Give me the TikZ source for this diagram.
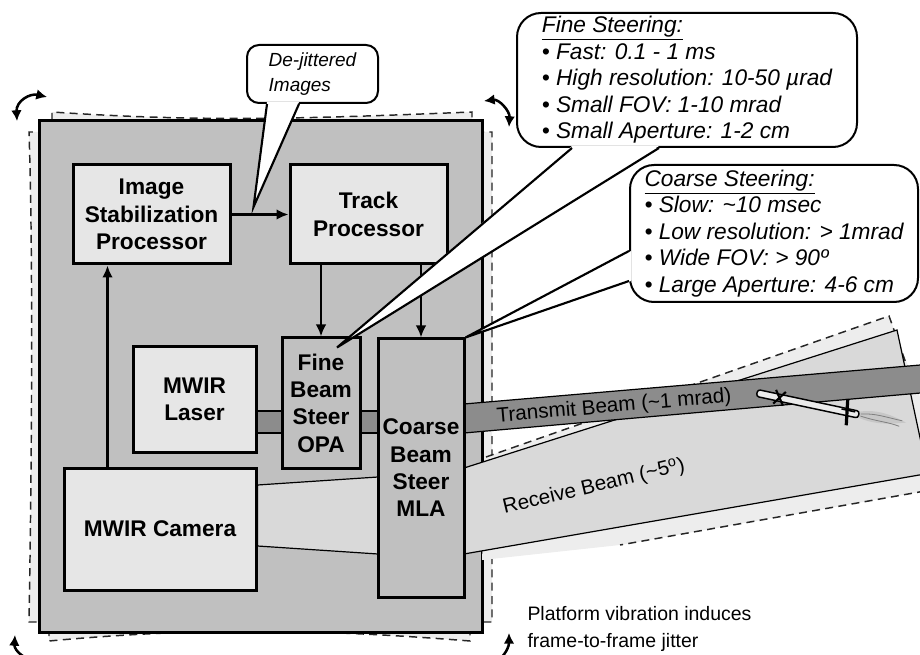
\documentclass[tikz,border=0pt]{standalone}
\usepackage{fontspec}
\setmainfont{Liberation Sans}
\usetikzlibrary{arrows.meta,calc}

\definecolor{platgray}{RGB}{192,192,192}
\definecolor{boxlight}{RGB}{230,230,230}
\definecolor{beamdark}{RGB}{140,140,140}
\definecolor{rxgray}{RGB}{217,217,217}
\definecolor{jittergray}{RGB}{237,237,237}

\tikzset{every picture/.style={line width=0.75pt}}
\tikzset{
  block/.style={draw, line width=2.25pt, fill=boxlight, inner sep=0pt, align=center,
    font=\bfseries\fontsize{17}{20.5}\selectfont},
  steerblock/.style={block, fill=platgray},
  flow/.style={line width=1.9pt, -{Latex[length=9pt,width=8pt]}},
  callout/.style={draw, line width=1.5pt, fill=white, inner sep=0pt, align=left,
    font=\itshape\fontsize{17}{19.9}\selectfont},
  jitter/.style={draw=black!85, line width=1.1pt, dash pattern=on 6pt off 4pt},
  beamedge/.style={draw=black, line width=0.9pt},
  beamlabel/.style={inner sep=0pt, font=\fontsize{15.5}{18}\selectfont},
  spin/.style={line width=1.9pt, {Latex[length=8pt,width=8pt]}-{Latex[length=8pt,width=8pt]}}
}

\begin{document}
\begin{tikzpicture}[x=0.75pt,y=0.75pt,yscale=-1,xscale=1]
\clip (0,0) rectangle (920,655);

% jittered copy of the platform
\filldraw[jitter, fill=jittergray] (52,121) -- (52,112) .. controls (200,122) and (300,119) .. (472,112) -- (472,132) -- (492,132) -- (492,622) -- (470,622) -- (470,641) .. controls (320,629) and (200,627) .. (49,641) -- (49,622) -- (29,622) .. controls (32,450) and (33,250) .. (29,132) -- (52,132) -- cycle;
% platform
\draw[line width=2.25pt, fill=platgray] (39,121) rectangle (482,632);

% jittered receive beam
\fill[jittergray] (486,457) -- (889,316) -- (925,410) -- (925,491) -- (620,545) -- (482,560) -- cycle;
\draw[jitter] (486,457) -- (889,316) -- (912,380);
\draw[jitter] (925,491) -- (620,545);

% Text Node
\node[block, minimum width=117.75pt, minimum height=74.25pt] (isp) at (151.5,214.5) {Image\\Stabilization\\Processor};
% Text Node
\node[block, minimum width=117.75pt, minimum height=74.25pt] (track) at (368.5,214.5) {Track\\Processor};
% Text Node
\node[block, minimum width=92.25pt, minimum height=78.75pt] (laser) at (194.5,399.5) {MWIR\\Laser};
% Text Node
\node[block, minimum width=144pt, minimum height=91.5pt] (camera) at (160,529) {MWIR Camera};

% receive beam, camera side
\filldraw[beamedge, fill=rxgray] (camera.east |- 0,485) -- (378,477) -- (378,554) -- (camera.east |- 0,546) -- cycle;
% receive beam, out of the platform
\filldraw[beamedge, fill=rxgray] (464,468) -- (897,330) -- (925,461) -- (925,474) -- (464,554) -- cycle;
% laser beam
\filldraw[beamedge, fill=beamdark] (laser.east |- 0,411) rectangle (282,433);
\filldraw[beamedge, fill=beamdark] (360,411) rectangle (378,433);
% transmit beam
\filldraw[beamedge, fill=beamdark] (464,404) -- (925,364.6) -- (925,392.6) -- (464,433) -- cycle;

% Text Node
\node[steerblock, minimum width=58.5pt, minimum height=97.5pt] (opa) at (321,403) {Fine\\Beam\\Steer\\OPA};
% Text Node
\node[steerblock, minimum width=64.5pt, minimum height=193.5pt] (mla) at (421,468) {Coarse\\Beam\\Steer\\MLA};

% Connection
\draw[flow] (isp) -- (track);
\coordinate (ispfoot) at ($(isp.south west)!0.225!(isp.south east)$);
\draw[flow] (camera.north -| ispfoot) -- (ispfoot);
% Connection
\draw[flow] (track.south -| opa.north) -- (opa.north);
\draw[flow] (track.south -| mla.north) -- (mla.north);

% missile
\begin{scope}[shift={(757,393)}, rotate=12]
  \fill[black!22] (104,-3) .. controls (120,-9) and (135,-7) .. (152,-2) .. controls (138,2) and (124,7) .. (104,3) -- cycle;
  \draw[black!50, line width=0.6pt] (106,-1) .. controls (120,-5) and (132,-3) .. (148,-3);
  \draw[black!50, line width=0.6pt] (106,1) .. controls (122,3) and (134,1) .. (146,3);
  \draw[line width=1.1pt, fill=black!8, rounded corners=2pt] (0,-3.5) rectangle (104,3.5);
  \draw[line width=1.6pt] (18,-7) -- (28,7) (18,7) -- (28,-7);
  \draw[line width=2.4pt] (90,-13) -- (94,13);
  \draw[line width=1.2pt] (86,-2) -- (100,-2);
\end{scope}

% beam labels
\node[beamlabel, rotate=4.9] (txlabel) at (614,407) {Transmit Beam (\textasciitilde1 mrad)};
\node[beamlabel, rotate=13.5] (rxlabel) at (594,487) {Receive Beam (\textasciitilde5\textsuperscript{o})};

% callouts
\node[callout, rounded corners=9pt, minimum width=98.25pt, minimum height=43.5pt,
  font=\itshape\fontsize{14.25}{18.75}\selectfont] (dejit) at (312.5,74) {De-jittered\\Images};
\coordinate (dejittip) at ($(isp.east)+(22,-7.5)$);
\fill[white] ($(dejit.south west)+(21,-2)$) -- (dejittip) -- ($(dejit.south west)+(53,-2)$) -- cycle;
\draw[line width=1.6pt] ($(dejit.south west)+(21,0)$) -- (dejittip) -- ($(dejit.south west)+(53,0)$);

\node[callout, rounded corners=18pt, minimum width=255pt, minimum height=100.5pt] (fine) at (687,80)
  {\underline{Fine Steering:}\\
   • Fast: 0.1 - 1 ms\\
   • High resolution: 10-50 µrad\\
   • Small FOV: 1-10 mrad\\
   • Small Aperture: 1-2 cm};
\coordinate (finetip) at ($(opa.north)+(16,11)$);
\fill[white] ($(fine.south west)+(56,-2)$) -- (finetip) -- ($(fine.south west)+(143,-2)$) -- cycle;
\draw[line width=1.6pt] ($(fine.south west)+(56,0)$) -- (finetip) -- ($(fine.south west)+(143,0)$);

\node[callout, rounded corners=18pt, minimum width=216pt, minimum height=102.75pt] (coarse) at (774,233.5)
  {\underline{Coarse Steering:}\\
   • Slow: \textasciitilde10 msec\\
   • Low resolution: > 1mrad\\
   • Wide FOV: > 90º\\
   • Large Aperture: 4-6 cm};
\coordinate (coarsetip) at (mla.north east);
\fill[white] ($(coarse.south west)+(2,-52)$) -- (coarsetip) -- ($(coarse.south west)+(2,-22)$) -- cycle;
\draw[line width=1.6pt] ($(coarse.south west)+(0,-52)$) -- (coarsetip) -- ($(coarse.south west)+(0,-22)$);

% rocking of the platform
\draw[spin] (17,121) .. controls (16,101) and (30,93) .. (47,97);
\draw[spin] (484,101) .. controls (499,99) and (510,111) .. (509,127);
\draw[spin] (15,635) .. controls (14,651) and (26,660) .. (44,661);
\draw[spin] (488,663) .. controls (500,660) and (509,650) .. (509,633);

% Text Node
\node[anchor=north west, inner sep=0pt, align=left, font=\fontsize{14.6}{20.25}\selectfont] (note) at (527,606)
  {Platform vibration induces\\frame-to-frame jitter};

\end{tikzpicture}
\end{document}
